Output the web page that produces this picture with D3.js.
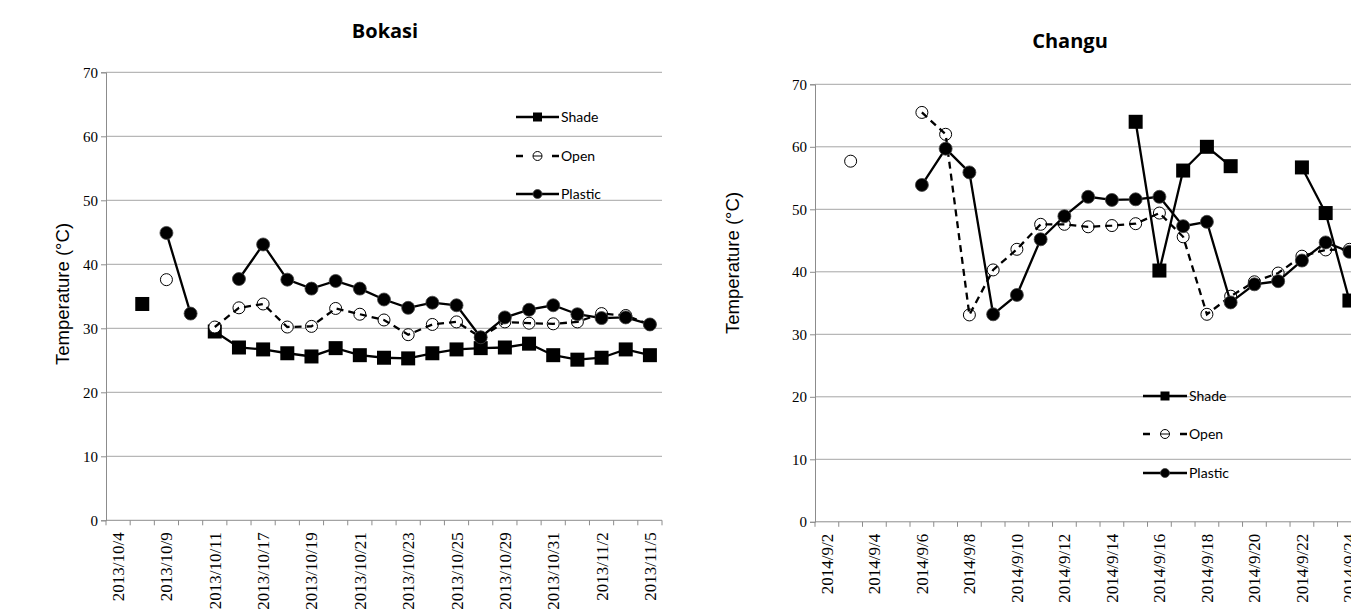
<!DOCTYPE html>
<html>
<head>
<meta charset="utf-8">
<script src="https://cdn.jsdelivr.net/npm/d3@7"></script>
<style>
  html, body { margin: 0; padding: 0; background: #fff; }
  svg { display: block; }
</style>
</head>
<body>
<svg id="chart" width="1351" height="612"></svg>
<script>
// ---- Bokasi compost pile temperatures (°C) ----
const bokasiDates = ["2013/10/4","2013/10/8","2013/10/9","2013/10/10","2013/10/11","2013/10/16",
  "2013/10/17","2013/10/18","2013/10/19","2013/10/20","2013/10/21","2013/10/22","2013/10/23",
  "2013/10/24","2013/10/25","2013/10/28","2013/10/29","2013/10/30","2013/10/31","2013/11/1",
  "2013/11/2","2013/11/4","2013/11/5"];
const bokasiShade   = [null,33.8,null,null,29.5,27.0,26.7,26.1,25.6,26.9,25.8,25.4,25.3,26.1,26.7,26.9,27.0,27.6,25.8,25.1,25.4,26.7,25.8];
const bokasiOpen    = [null,null,37.6,null,30.2,33.2,33.8,30.2,30.3,33.1,32.2,31.3,29.0,30.6,31.0,28.6,31.0,30.8,30.7,31.0,32.3,32.0,30.6];
const bokasiPlastic = [null,null,44.9,32.3,null,37.7,43.1,37.6,36.2,37.4,36.2,34.5,33.2,34.0,33.6,28.6,31.7,32.9,33.6,32.2,31.6,31.7,30.6];

// ---- Changu compost pile temperatures (°C) ----
const changuDates = ["2014/9/2","2014/9/3","2014/9/4","2014/9/5","2014/9/6","2014/9/7","2014/9/8",
  "2014/9/9","2014/9/10","2014/9/11","2014/9/12","2014/9/13","2014/9/14","2014/9/15","2014/9/16",
  "2014/9/17","2014/9/18","2014/9/19","2014/9/20","2014/9/21","2014/9/22","2014/9/23","2014/9/24"];
const changuShade   = [null,null,null,null,null,null,null,null,null,null,null,null,null,64.0,40.2,56.2,60.0,56.9,null,null,56.7,49.4,35.4];
const changuOpen    = [null,57.7,null,null,65.5,62.0,33.1,40.3,43.6,47.6,47.6,47.2,47.4,47.7,49.4,45.6,33.2,36.1,38.4,39.8,42.5,43.5,43.6];
const changuPlastic = [null,null,null,null,53.9,59.7,55.9,33.2,36.3,45.2,48.9,52.0,51.5,51.6,52.0,47.3,48.0,35.1,38.0,38.5,41.8,44.7,43.2];

const yTicks = [0,10,20,30,40,50,60,70];
const seriesNames = ["Shade","Open","Plastic"];

const svg = d3.select("#chart");

const AXIS_GREY = "#8c8c8c";
const GRID_GREY = "#a6a6a6";

function drawMarker(g, type, x, y, size) {
  if (type === "Shade") {
    g.append("rect")
      .attr("x", x - size / 2).attr("y", y - size / 2)
      .attr("width", size).attr("height", size)
      .attr("fill", "#000");
  } else if (type === "Plastic") {
    g.append("circle").attr("cx", x).attr("cy", y).attr("r", size / 2)
      .attr("fill", "#000").attr("stroke", "#444").attr("stroke-width", 0.8);
  } else {
    g.append("circle").attr("cx", x).attr("cy", y).attr("r", size / 2 - 0.5)
      .attr("fill", "#fff").attr("stroke", "#000").attr("stroke-width", 1);
  }
}

function drawPanel(cfg) {
  const g = svg.append("g");
  const x = d3.scaleBand().domain(cfg.dates).range([cfg.left, cfg.right]).padding(0);
  const y = d3.scaleLinear().domain([0, 70]).range([cfg.bottom, cfg.top]);

  // horizontal gridlines
  g.append("g").selectAll("line").data(yTicks.filter(t => t > 0)).join("line")
    .attr("x1", cfg.left).attr("x2", cfg.right)
    .attr("y1", d => y(d)).attr("y2", d => y(d))
    .attr("stroke", GRID_GREY).attr("stroke-width", 1);

  // y axis
  const yAxis = g.append("g").attr("transform", `translate(${cfg.left},0)`)
    .call(d3.axisLeft(y).tickValues(yTicks).tickSize(5).tickPadding(3));
  yAxis.select(".domain").attr("stroke", AXIS_GREY);
  yAxis.selectAll(".tick line").attr("stroke", AXIS_GREY);
  yAxis.selectAll(".tick text")
    .attr("font-family", "'Liberation Serif', 'Times New Roman', serif")
    .attr("font-size", 15).attr("fill", "#000");

  // x axis: tick marks at category boundaries, labels on every second category
  const xAxisG = g.append("g").attr("transform", `translate(0,${cfg.bottom})`);
  xAxisG.append("line").attr("x1", cfg.left).attr("x2", cfg.right)
    .attr("stroke", AXIS_GREY);
  const bounds = cfg.dates.map(d => x(d)).concat([x(cfg.dates[cfg.dates.length - 1]) + x.bandwidth()]);
  xAxisG.selectAll(".bt").data(bounds).join("line").attr("class", "bt")
    .attr("x1", d => d).attr("x2", d => d).attr("y1", 0).attr("y2", 5)
    .attr("stroke", AXIS_GREY);
  xAxisG.selectAll(".lbl").data(cfg.dates.filter((d, i) => i % 2 === 0)).join("text")
    .attr("class", "lbl")
    .attr("transform", d => `translate(${x(d) + x.bandwidth() / 2 + 6},${12}) rotate(-90)`)
    .attr("text-anchor", "end")
    .attr("font-family", "'Liberation Serif', 'Times New Roman', serif")
    .attr("font-size", 17).attr("fill", "#000")
    .text(d => d);

  const cx = i => x(cfg.dates[i]) + x.bandwidth() / 2;
  const line = d3.line().defined(d => d.v != null).x(d => cx(d.i)).y(d => y(d.v));

  cfg.series.forEach((vals, si) => {
    const name = seriesNames[si];
    const pts = vals.map((v, i) => ({ v, i }));
    const sg = g.append("g");
    const path = () => sg.append("path").datum(pts).attr("d", line)
      .attr("fill", "none").attr("stroke", "#000").attr("stroke-width", 2.3)
      .attr("stroke-dasharray", name === "Open" ? "7,5" : null);
    if (name !== "Open") path();
    pts.filter(p => p.v != null).forEach(p => drawMarker(sg, name, cx(p.i), y(p.v), name === "Shade" ? 14 : 13));
    if (name === "Open") path();
  });

  // legend
  const lg = g.append("g");
  seriesNames.forEach((name, k) => {
    const ly = cfg.legend.y[k];
    const row = lg.append("g");
    if (name === "Open") {
      row.append("line").attr("x1", cfg.legend.x0).attr("x2", cfg.legend.x0 + 7)
        .attr("y1", ly).attr("y2", ly).attr("stroke", "#000").attr("stroke-width", 2.5);
      row.append("line").attr("x1", cfg.legend.x1 - 7).attr("x2", cfg.legend.x1)
        .attr("y1", ly).attr("y2", ly).attr("stroke", "#000").attr("stroke-width", 2.5);
      const mx = (cfg.legend.x0 + cfg.legend.x1) / 2;
      row.append("circle").attr("cx", mx).attr("cy", ly).attr("r", 4.5)
        .attr("fill", "#fff").attr("stroke", "#000").attr("stroke-width", 1);
      row.append("line").attr("x1", mx - 4.5).attr("x2", mx + 4.5).attr("y1", ly).attr("y2", ly)
        .attr("stroke", "#000").attr("stroke-width", 1);
    } else {
      row.append("line").attr("x1", cfg.legend.x0).attr("x2", cfg.legend.x1)
        .attr("y1", ly).attr("y2", ly).attr("stroke", "#000").attr("stroke-width", 2.5);
      drawMarker(row, name, (cfg.legend.x0 + cfg.legend.x1) / 2, ly, 9);
    }
    row.append("text").attr("x", cfg.legend.x1 + 2).attr("y", ly).attr("dy", "0.35em")
      .attr("font-family", "Lato, 'Open Sans', sans-serif").attr("font-size", 14)
      .attr("fill", "#000").text(name);
  });

  // title
  g.append("text").attr("x", cfg.title.x).attr("y", cfg.title.y)
    .attr("text-anchor", "middle")
    .attr("font-family", "'Open Sans', Lato, sans-serif").attr("font-weight", "bold")
    .attr("font-size", 20).attr("fill", "#000").text(cfg.title.text);

  // y axis title
  g.append("text")
    .attr("transform", `translate(${cfg.yTitle.x},${cfg.yTitle.y}) rotate(-90)`)
    .attr("text-anchor", "middle")
    .attr("font-family", "'Liberation Sans', Arial, sans-serif")
    .attr("font-size", 18.5).attr("fill", "#000")
    .text("Temperature (°C)");
}

drawPanel({
  dates: bokasiDates,
  series: [bokasiShade, bokasiOpen, bokasiPlastic],
  left: 106, right: 662, top: 72.3, bottom: 520.3,
  legend: { x0: 516, x1: 559, y: [117, 156, 194] },
  title: { text: "Bokasi", x: 385, y: 38 },
  yTitle: { x: 69, y: 294 }
});

drawPanel({
  dates: changuDates,
  series: [changuShade, changuOpen, changuPlastic],
  left: 815, right: 1361.3, top: 84.3, bottom: 521.8,
  legend: { x0: 1143, x1: 1187, y: [396, 434, 473] },
  title: { text: "Changu", x: 1070, y: 48 },
  yTitle: { x: 739, y: 263 }
});
</script>
</body>
</html>
